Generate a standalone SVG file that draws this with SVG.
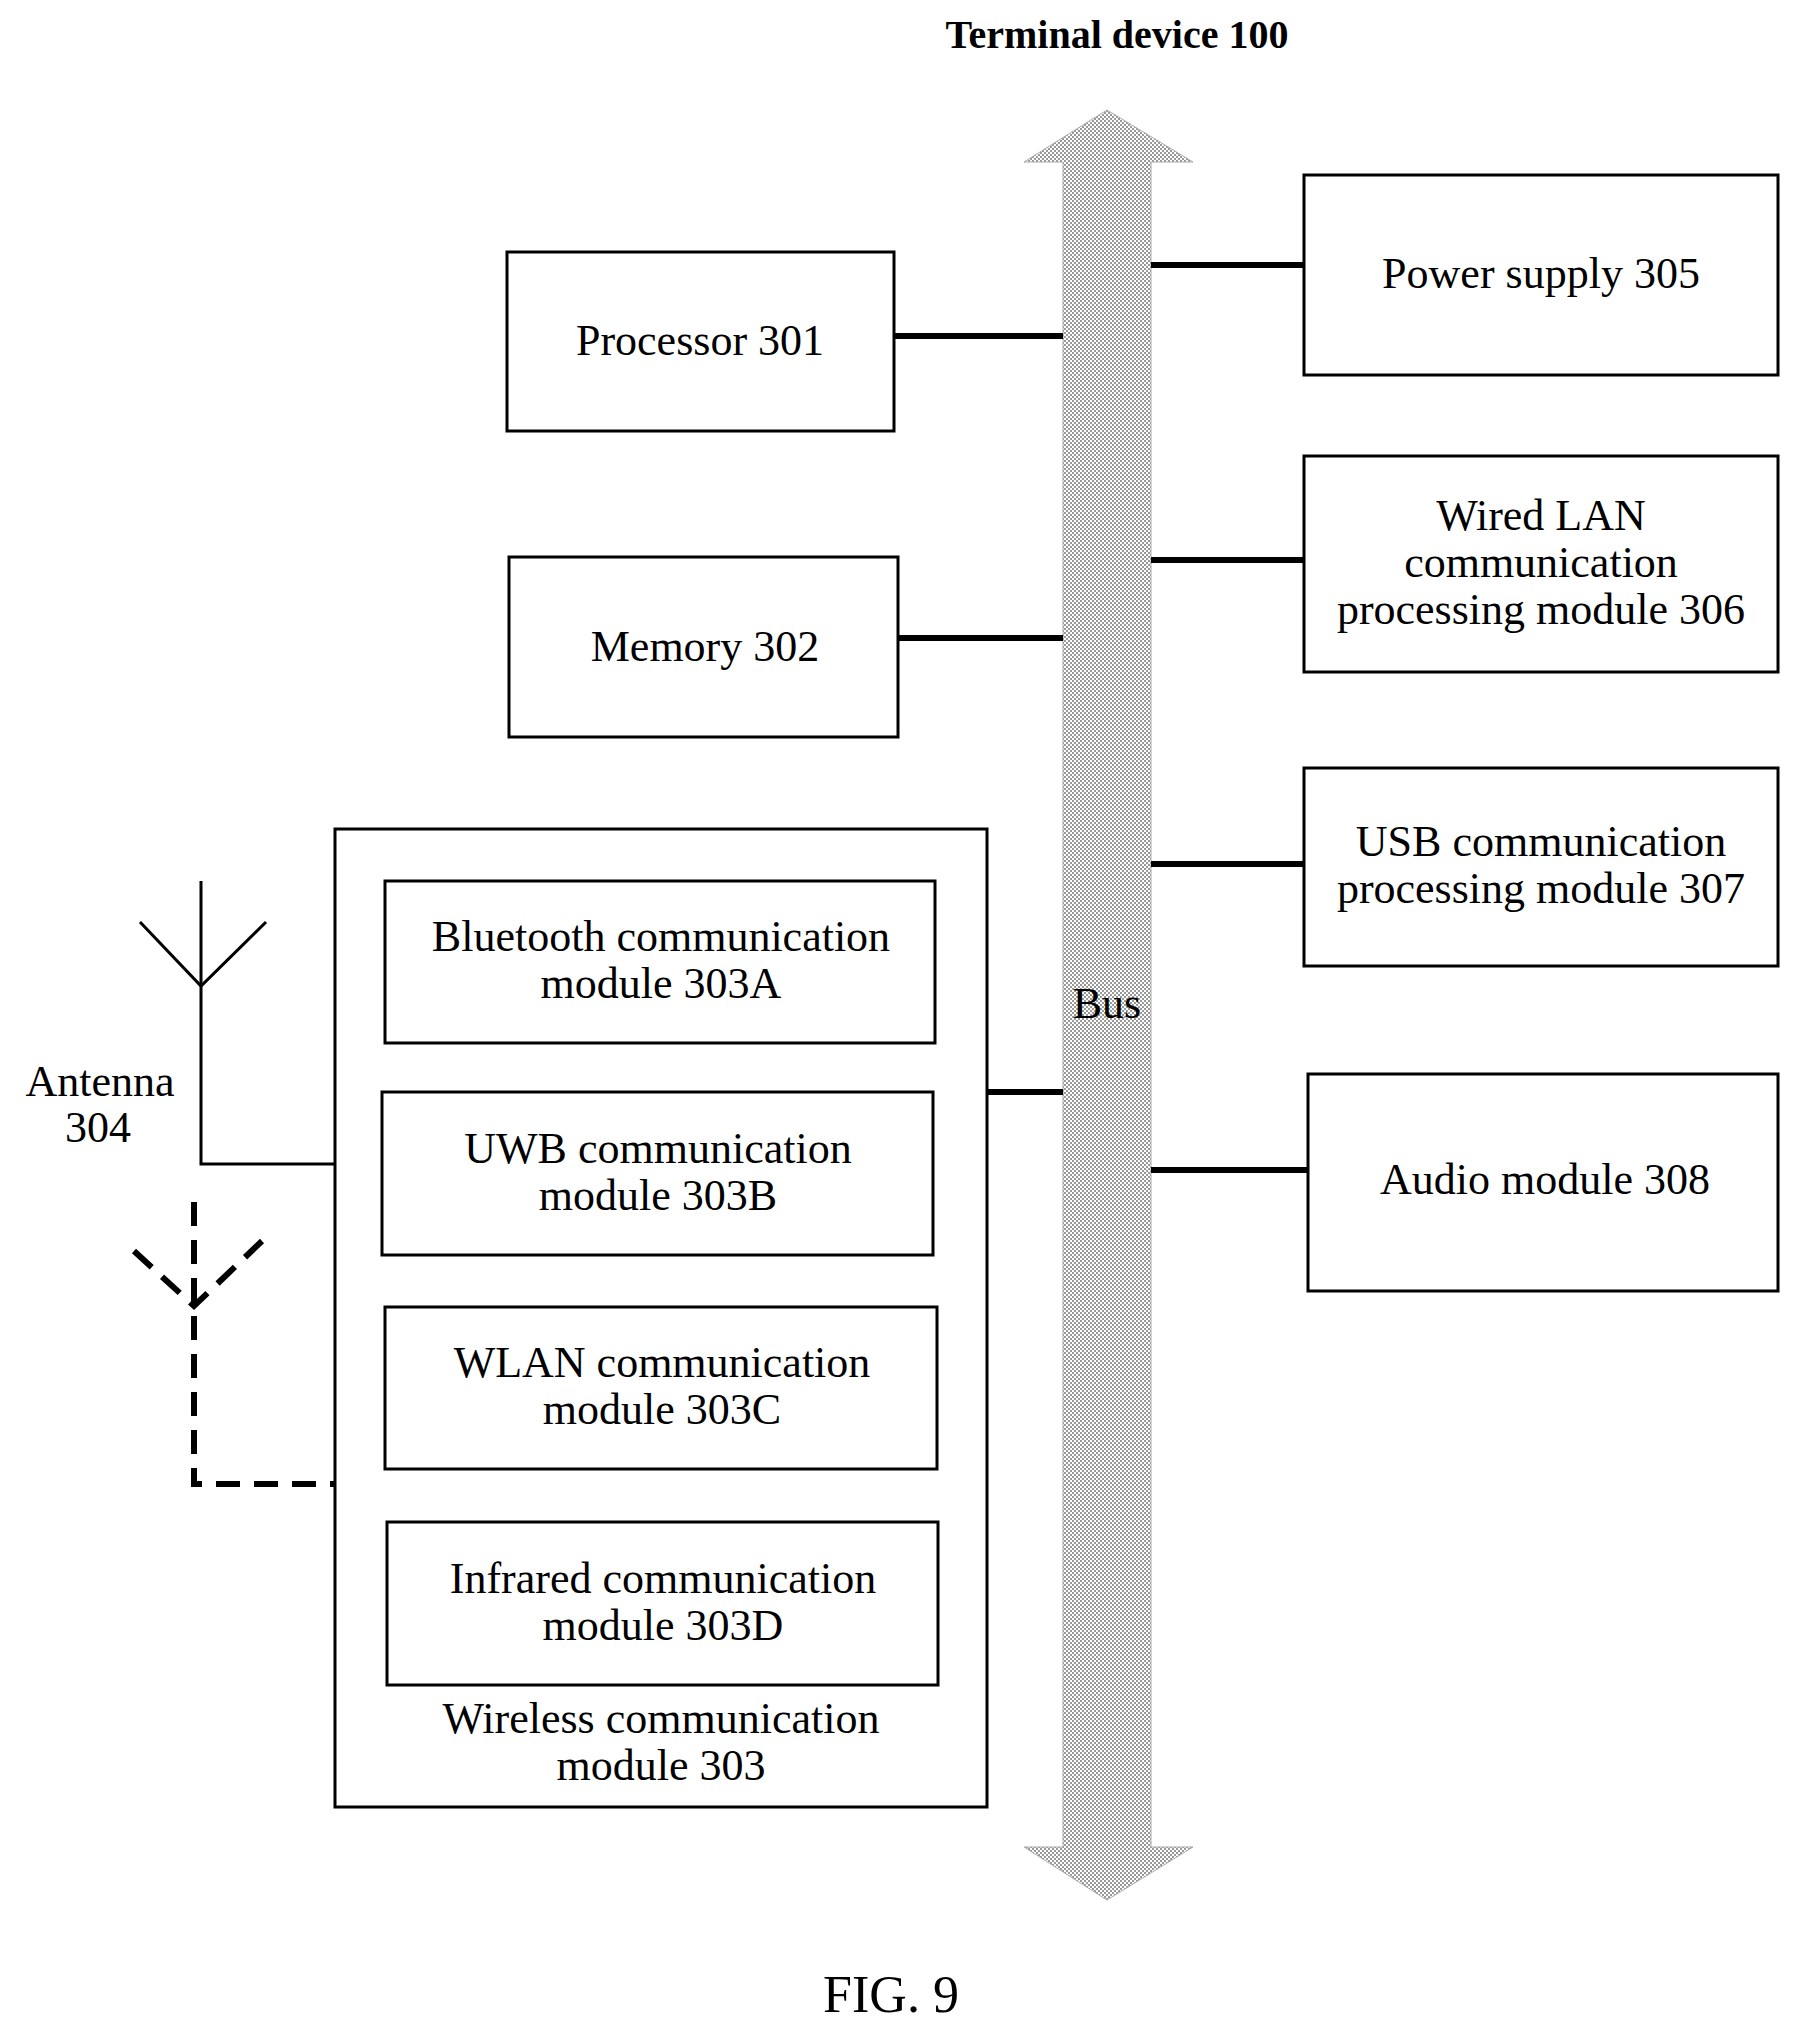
<svg xmlns="http://www.w3.org/2000/svg" width="1799" height="2035" viewBox="0 0 1799 2035">
<style>
.box{fill:#fff;stroke:#000;stroke-width:3}
.ln{stroke:#000;stroke-width:6;fill:none}
.thin{stroke:#000;stroke-width:3;fill:none}
.dash{stroke:#000;stroke-width:6;fill:none;stroke-dasharray:24 14}
text{font-family:"Liberation Serif","Times New Roman",serif;font-size:44px;text-anchor:middle;fill:#000}
</style>
<defs>
<pattern id="dots" width="4" height="4" patternUnits="userSpaceOnUse">
<rect width="4" height="4" fill="#fff"/>
<rect width="2" height="2" fill="#999"/>
<rect x="2" y="2" width="2" height="2" fill="#999"/>
</pattern>
</defs>
<rect width="1799" height="2035" fill="#fff"/>
<text x="1117" y="48" style="font-weight:bold;font-size:40px">Terminal device 100</text>
<g id="bus">
<polygon points="1107,110 1193,162 1151,162 1151,1847 1193,1847 1107,1900 1024,1847 1063,1847 1063,162 1024,162" fill="url(#dots)" stroke="#aaa" stroke-width="1"/>
<text x="1107" y="1018">Bus</text>
</g>
<g id="connectors">
<line class="ln" x1="894" y1="336" x2="1063" y2="336"/>
<line class="ln" x1="898" y1="638" x2="1063" y2="638"/>
<line class="ln" x1="987" y1="1092" x2="1063" y2="1092"/>
<line class="ln" x1="1151" y1="265" x2="1304" y2="265"/>
<line class="ln" x1="1151" y1="560" x2="1304" y2="560"/>
<line class="ln" x1="1151" y1="864" x2="1304" y2="864"/>
<line class="ln" x1="1151" y1="1170" x2="1308" y2="1170"/>
<polyline class="thin" points="201,881 201,1164 335,1164"/>
<polyline class="thin" points="140,922 201,986 266,922"/>
<polyline class="dash" points="194,1202 194,1484 335,1484"/>
<polyline class="dash" points="134,1251 194,1306 262,1241"/>
</g>
<g id="antenna304"><text x="100" y="1096">Antenna</text><text x="98" y="1142">304</text></g>
<g id="processor301"><rect class="box" x="507" y="252" width="387" height="179"/><text x="700" y="355">Processor 301</text></g>
<g id="memory302"><rect class="box" x="509" y="557" width="389" height="180"/><text x="705" y="661">Memory 302</text></g>
<g id="wireless303"><rect class="box" x="335" y="829" width="652" height="978"/>
<text x="661" y="1733">Wireless communication</text><text x="661" y="1780">module 303</text></g>
<g id="bt303A"><rect class="box" x="385" y="881" width="550" height="162"/><text x="661" y="951">Bluetooth communication</text><text x="661" y="998">module 303A</text></g>
<g id="uwb303B"><rect class="box" x="382" y="1092" width="551" height="163"/><text x="658" y="1163">UWB communication</text><text x="658" y="1210">module 303B</text></g>
<g id="wlan303C"><rect class="box" x="385" y="1307" width="552" height="162"/><text x="662" y="1377">WLAN communication</text><text x="662" y="1424">module 303C</text></g>
<g id="ir303D"><rect class="box" x="387" y="1522" width="551" height="163"/><text x="663" y="1593">Infrared communication</text><text x="663" y="1640">module 303D</text></g>
<g id="power305"><rect class="box" x="1304" y="175" width="474" height="200"/><text x="1541" y="288">Power supply 305</text></g>
<g id="lan306"><rect class="box" x="1304" y="456" width="474" height="216"/><text x="1541" y="530">Wired LAN</text><text x="1541" y="577">communication</text><text x="1541" y="624">processing module 306</text></g>
<g id="usb307"><rect class="box" x="1304" y="768" width="474" height="198"/><text x="1541" y="856">USB communication</text><text x="1541" y="903">processing module 307</text></g>
<g id="audio308"><rect class="box" x="1308" y="1074" width="470" height="217"/><text x="1545" y="1194">Audio module 308</text></g>
<text x="891" y="2012" style="font-size:52px">FIG. 9</text>
</svg>
